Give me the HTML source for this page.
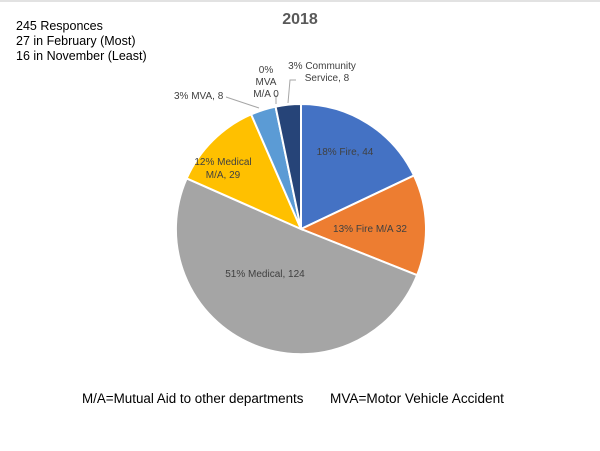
<!DOCTYPE html>
<html><head><style>
body{margin:0;background:#fff;}
svg{display:block;font-family:"Liberation Sans",Arial,sans-serif;}
</style></head><body>
<svg width="600" height="451" viewBox="0 0 600 451">
<rect x="0" y="0" width="600" height="451" fill="#fff"/>
<line x1="0" y1="1" x2="600" y2="1" stroke="#d9d9d9" stroke-width="1.5"/>
<text x="300" y="24" text-anchor="middle" font-size="16" font-weight="bold" fill="#595959">2018</text>
<text x="16" y="30" font-size="12.5" fill="#000">245 Responces</text>
<text x="16" y="45" font-size="12.5" fill="#000">27 in February (Most)</text>
<text x="16" y="60" font-size="12.5" fill="#000">16 in November (Least)</text>
<g stroke="#fff" stroke-width="2">
<path d="M301,229 L301,104 A125,125 0 0 1 413.96,175.49 Z" fill="#4472C4"/>
<path d="M301,229 L413.96,175.49 A125,125 0 0 1 417.16,275.15 Z" fill="#ED7D31"/>
<path d="M301,229 L417.16,275.15 A125,125 0 1 1 186.70,178.40 Z" fill="#A5A5A5"/>
<path d="M301,229 L186.70,178.40 A125,125 0 0 1 251.14,114.38 Z" fill="#FFC000"/>
<path d="M301,229 L251.14,114.38 A125,125 0 0 1 275.55,106.62 Z" fill="#5B9BD5"/>
<path d="M301,229 L275.55,106.62 A125,125 0 0 1 301,104 Z" fill="#264478"/>
</g>
<g stroke="#a6a6a6" stroke-width="1" fill="none">
<polyline points="226,97 259,108"/>
<line x1="276" y1="95" x2="276" y2="104"/>
<polyline points="296,80 290,80 288,103"/>
</g>
<g font-size="10" fill="#404040">
<text x="345" y="155" text-anchor="middle">18% Fire, 44</text>
<text x="370" y="232" text-anchor="middle">13% Fire M/A 32</text>
<text x="265" y="277" text-anchor="middle">51% Medical, 124</text>
<text x="223" y="165" text-anchor="middle">12% Medical</text>
<text x="223" y="178" text-anchor="middle">M/A, 29</text>
<text x="174" y="99">3% MVA, 8</text>
<text x="266" y="73" text-anchor="middle">0%</text>
<text x="266" y="85" text-anchor="middle">MVA</text>
<text x="266" y="97" text-anchor="middle">M/A 0</text>
<text x="322" y="69" text-anchor="middle">3% Community</text>
<text x="327" y="81" text-anchor="middle">Service, 8</text>
</g>
<text x="82" y="403" font-size="13.4" fill="#000">M/A=Mutual  Aid to other departments</text>
<text x="330" y="403" font-size="13.6" fill="#000">MVA=Motor Vehicle Accident</text>
</svg>
</body></html>
